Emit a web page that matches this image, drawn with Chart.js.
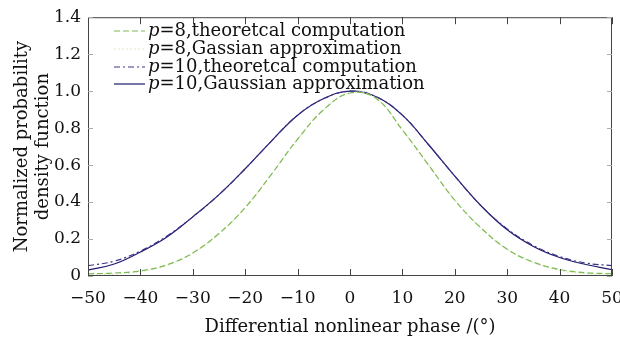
<!DOCTYPE html>
<html>
<head>
<meta charset="utf-8">
<script src="https://cdn.jsdelivr.net/npm/chart.js@4/dist/chart.umd.min.js"></script>
<style>
  html, body { margin: 0; padding: 0; background: #fff; }
  #wrap { width: 620px; height: 343px; }
</style>
</head>
<body>
<div id="wrap"><canvas id="pdf_chart"></canvas></div>
<script>
// phase axis (degrees)
var phase = [-50, -45, -40, -35, -30, -25, -20, -15, -10, -5, 0, 5, 10, 15, 20, 25, 30, 35, 40, 45, 50];

// values
var p8Theory  = [0.012, 0.016, 0.028, 0.06, 0.125, 0.23, 0.37, 0.55, 0.74, 0.9, 0.99, 0.96, 0.79, 0.6, 0.41, 0.26, 0.145, 0.075, 0.035, 0.018, 0.012];
var p8Gauss   = [0.004, 0.01, 0.024, 0.057, 0.123, 0.23, 0.37, 0.55, 0.74, 0.9, 0.99, 0.96, 0.79, 0.6, 0.41, 0.26, 0.143, 0.072, 0.03, 0.012, 0.004];
var p10Theory = [0.056, 0.08, 0.135, 0.215, 0.32, 0.44, 0.58, 0.73, 0.87, 0.96, 1.0, 0.97, 0.87, 0.71, 0.54, 0.38, 0.255, 0.165, 0.105, 0.07, 0.056];
var p10Gauss  = [0.032, 0.065, 0.13, 0.21, 0.32, 0.44, 0.58, 0.73, 0.87, 0.96, 1.0, 0.97, 0.87, 0.71, 0.54, 0.38, 0.25, 0.16, 0.1, 0.062, 0.034];

var seriesNames = ["=8,theoretcal computation", "=8,Gassian approximation", "=10,theoretcal computation", "=10,Gaussian approximation"];
var xTicks = [-50, -40, -30, -20, -10, 0, 10, 20, 30, 40, 50];
var yTicks = [0, 0.2, 0.4, 0.6, 0.8, 1.0, 1.2, 1.4];

var serif = '"DejaVu Serif", "Liberation Serif", serif';

function pts(ys) {
    return phase.map(function (x, i) { return { x: x, y: ys[i] }; });
}

// frame, inward ticks and the legend drawn by hand (italic p)
var framePlugin = {
    id: 'frame',
    afterDraw: function (chart) {
        var c = chart.ctx, a = chart.chartArea;
        var xs = chart.scales.x, ys = chart.scales.y;
        c.save();
        c.strokeStyle = '#444';
        c.lineWidth = 1;
        c.strokeRect(a.left + 0.5, a.top + 0.5, a.right - a.left - 1, a.bottom - a.top - 1);
        c.beginPath();
        xTicks.forEach(function (v) {
            var px = Math.round(xs.getPixelForValue(v)) + 0.5;
            c.moveTo(px, a.bottom); c.lineTo(px, a.bottom - 7);
            c.moveTo(px, a.top); c.lineTo(px, a.top + 7);
        });
        c.stroke();
        c.strokeStyle = '#aaa';
        c.beginPath();
        yTicks.forEach(function (v) {
            var py = Math.round(ys.getPixelForValue(v)) + 0.5;
            c.moveTo(a.left, py); c.lineTo(a.left + 5, py);
            c.moveTo(a.right, py); c.lineTo(a.right - 5, py);
        });
        c.stroke();

        // legend
        var rowY = [31, 49, 67, 84];
        chart.data.datasets.forEach(function (ds, i) {
            var y = rowY[i];
            c.strokeStyle = ds.borderColor;
            c.lineWidth = 1.2;
            c.setLineDash(ds.borderDash || []);
            c.beginPath();
            c.moveTo(114, y); c.lineTo(145, y);
            c.stroke();
            c.setLineDash([]);
            c.fillStyle = '#111';
            c.textBaseline = 'middle';
            c.font = 'italic 18px ' + serif;
            c.fillText('p', 148, y);
            var w = c.measureText('p').width;
            c.font = '18px ' + serif;
            c.fillText(seriesNames[i], 148 + w, y);
        });
        c.restore();
    }
};

var ctx = document.getElementById("pdf_chart");

var myChart = new Chart(ctx, {
    type: 'line',
    data: {
        datasets: [
            {
                label: seriesNames[0],
                data: pts(p8Theory),
                borderColor: '#7dbb4f',
                borderDash: [6, 3],
                borderWidth: 1.2,
                pointRadius: 0,
                tension: 0.4,
                fill: false
            },
            {
                label: seriesNames[1],
                data: pts(p8Gauss),
                borderColor: '#dfe8cc',
                borderDash: [2, 2],
                borderWidth: 1.2,
                pointRadius: 0,
                tension: 0.4,
                fill: false
            },
            {
                label: seriesNames[2],
                data: pts(p10Theory),
                borderColor: '#3b3488',
                borderDash: [6, 3, 2, 3],
                borderWidth: 1.2,
                pointRadius: 0,
                tension: 0.4,
                fill: false
            },
            {
                label: seriesNames[3],
                data: pts(p10Gauss),
                borderColor: '#1e1a6e',
                borderWidth: 1.2,
                pointRadius: 0,
                tension: 0.4,
                fill: false
            }
        ]
    },
    options: {
        responsive: true,
        maintainAspectRatio: false,
        animation: false,
        layout: { padding: { left: 0, right: 8, top: 15, bottom: 0 } },
        plugins: {
            legend: { display: false },
            tooltip: { enabled: false }
        },
        scales: {
            x: {
                type: 'linear',
                min: -50,
                max: 50,
                afterFit: function (s) { s.height = 67; s.paddingLeft = 0; s.paddingRight = 0; },
                grid: { display: false, drawTicks: false },
                border: { display: false },
                ticks: {
                    stepSize: 10,
                    padding: 12,
                    color: '#111',
                    font: { family: serif, size: 17 },
                    maxRotation: 0,
                    callback: function (v) { return v < 0 ? '\u2212' + Math.abs(v) : String(v); }
                },
                title: {
                    display: true,
                    text: 'Differential nonlinear phase /(\u00b0)',
                    color: '#111',
                    font: { family: serif, size: 18 },
                    padding: { top: 0, bottom: 5 }
                }
            },
            y: {
                min: 0,
                max: 1.4,
                afterFit: function (s) { s.width = 88; },
                grid: { display: false, drawTicks: false },
                border: { display: false },
                ticks: {
                    stepSize: 0.2,
                    padding: 7,
                    color: '#111',
                    font: { family: serif, size: 17 },
                    callback: function (v) { return v === 0 ? '0' : v.toFixed(1); }
                },
                title: {
                    display: true,
                    text: ['Normalized probability', 'density function'],
                    color: '#111',
                    font: { family: serif, size: 18, lineHeight: 1.15 },
                    padding: { top: 12, bottom: 0 }
                }
            }
        }
    },
    plugins: [framePlugin]
});
</script>
</body>
</html>
